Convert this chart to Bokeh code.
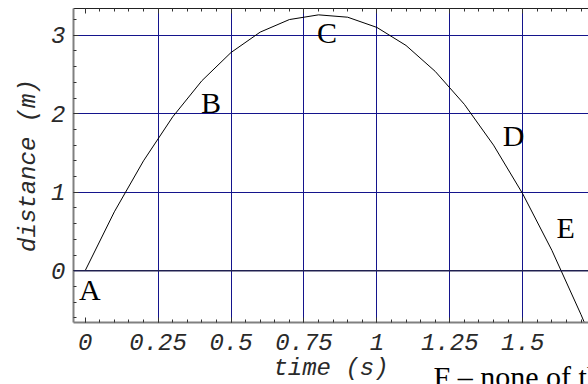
from bokeh.plotting import figure
from bokeh.models import FixedTicker, LinearAxis, Span, Title, Range1d, ColumnDataSource
from bokeh.core.properties import value
from bokeh.embed import file_html
from bokeh.resources import INLINE

# data
time_s = [0.0, 0.1, 0.2, 0.3, 0.4, 0.5, 0.6, 0.7, 0.8, 0.9, 1.0, 1.1, 1.2, 1.3, 1.4, 1.5, 1.6, 1.7, 1.75]
distance_m = [0.0, 0.75, 1.40, 1.96, 2.42, 2.78, 3.04, 3.20, 3.26, 3.23, 3.10, 2.87, 2.54, 2.12, 1.60, 0.98, 0.26, -0.56, -1.0]

x_ticks = [0, 0.25, 0.5, 0.75, 1, 1.25, 1.5, 1.75]
x_tick_labels = ["0", "0.25", "0.5", "0.75", "1", "1.25", "1.5", "1.75"]
y_ticks = [0, 1, 2, 3]
y_tick_labels = ["0", "1", "2", "3"]

point_labels = ["A", "B", "C", "D", "E"]
label_x = [-0.021, 0.397, 0.795, 1.432, 1.616]
label_y = [-0.243, 2.139, 3.033, 1.728, 0.553]

footer_text = "F \u2013 none of the above"

x_minor = [round(i * 0.05, 2) for i in range(0, 36)]
y_minor = [round(-0.6 + i * 0.2, 1) for i in range(0, 21)]

p = figure(width=588, height=384,
           x_range=Range1d(-0.04, 1.7256), y_range=Range1d(-0.66, 3.341),
           output_backend="svg", toolbar_location=None,
           min_border_left=73, min_border_right=0, min_border_top=8, min_border_bottom=62)
p.outline_line_color = None
p.background_fill_color = "white"
p.border_fill_color = "white"

mono = "Liberation Mono"

for ax, ticks, labels, minor in ((p.xaxis[0], x_ticks, x_tick_labels, x_minor),
                                 (p.yaxis[0], y_ticks, y_tick_labels, y_minor)):
    ax.ticker = FixedTicker(ticks=ticks, minor_ticks=minor)
    ax.major_label_overrides = {float(t): l for t, l in zip(ticks, labels)}
    ax.major_label_text_font = mono
    ax.major_label_text_font_style = "italic"
    ax.major_label_text_font_size = "24px"
    ax.major_label_text_color = "#2a2a2a"
    ax.axis_label_text_font = mono
    ax.axis_label_text_font_style = "italic"
    ax.axis_label_text_font_size = "24px"
    ax.axis_label_text_color = "#2a2a2a"
    ax.axis_line_color = "#808080"
    ax.axis_line_width = 2
    ax.major_tick_in = 5
    ax.major_tick_out = 0
    ax.minor_tick_in = 3
    ax.minor_tick_out = 0
    ax.major_tick_line_color = "#333333"
    ax.minor_tick_line_color = "#333333"

p.xaxis.axis_label = "time (s)"
p.yaxis.axis_label = "distance (m)"
p.xaxis.major_label_standoff = 11
p.xaxis.axis_label_standoff = 2
p.yaxis.major_label_standoff = 8
p.yaxis.axis_label_standoff = 6

top = LinearAxis(ticker=FixedTicker(ticks=x_ticks, minor_ticks=x_minor),
                 major_label_overrides={float(t): "" for t in x_ticks},
                 major_label_text_font_size="0px", major_label_standoff=0,
                 axis_line_color="#222222", axis_line_width=1,
                 major_tick_in=5, major_tick_out=0, minor_tick_in=3, minor_tick_out=0,
                 major_tick_line_color="#333333", minor_tick_line_color="#333333")
p.add_layout(top, "above")

grid_color = "#14148c"
p.xgrid.ticker = FixedTicker(ticks=x_ticks[1:])
p.ygrid.ticker = FixedTicker(ticks=y_ticks[1:])
p.xgrid.grid_line_color = grid_color
p.ygrid.grid_line_color = grid_color
p.xgrid.grid_line_width = 1
p.ygrid.grid_line_width = 1

p.add_layout(Span(location=0, dimension="width", line_color="#202050", line_width=1.5))

p.line(time_s, distance_m, line_color="black", line_width=1)

src = ColumnDataSource(dict(x=label_x, y=label_y, text=point_labels))
p.text(x="x", y="y", text="text", source=src,
       text_font=value("Liberation Serif"), text_font_size="30px",
       text_baseline="middle", text_align="left", text_color="black")

footer = Title(text=footer_text, align="left", offset=360, vertical_align="top",
               standoff=-49, text_font="Liberation Serif", text_font_size="30px",
               text_font_style="normal", text_color="black")
p.add_layout(footer, "below")

open("out.html", "w").write(file_html(p, INLINE))
